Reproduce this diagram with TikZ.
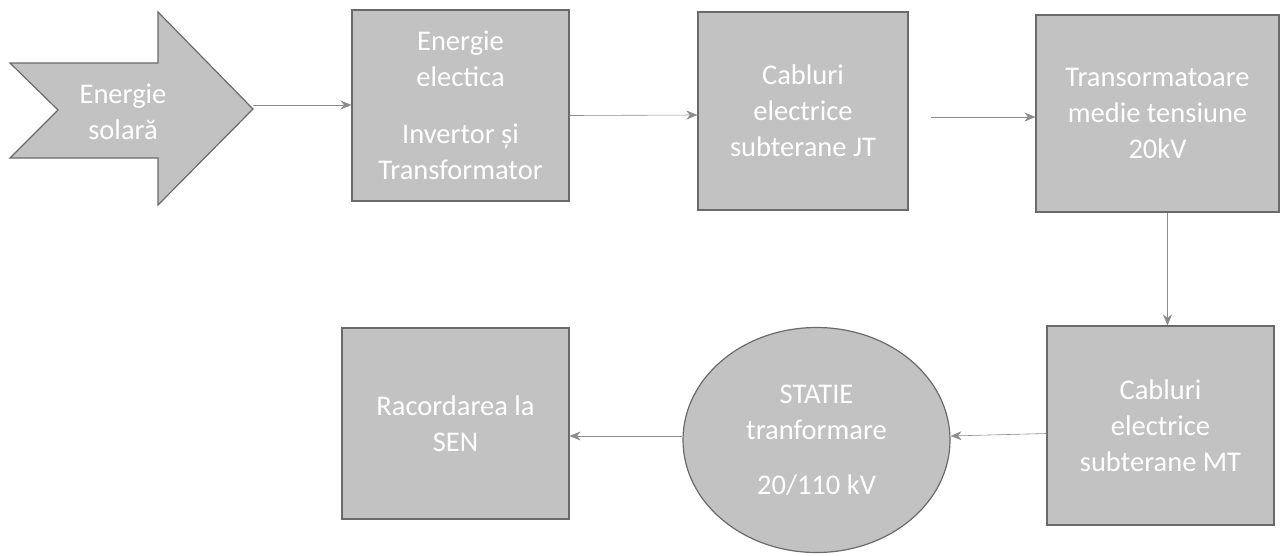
\documentclass[tikz,border=0pt]{standalone}
\usepackage{fontspec}
\setmainfont{Carlito}
\usetikzlibrary{calc, shapes.geometric, arrows.meta}

\definecolor{boxfill}{HTML}{C2C2C2}
\definecolor{boxline}{HTML}{6A6A6A}
\definecolor{linkgray}{HTML}{8C8C8C}

\tikzset{
	block/.style = {draw = boxline, fill = boxfill, line width = 1.2pt, inner sep = 0pt,
		align = center, text = white, font = \fontsize{28.5}{36}\selectfont},
	link/.style = {draw = linkgray, line width = 0.6pt, -{Stealth[length = 11pt, width = 9pt]}}
}

\begin{document}
\begin{tikzpicture}[x = 1pt, y = -1pt]
		%canvas
		\useasboundingbox (0,0) rectangle (1282,555);
		
		%solar arrow
		\draw [boxline, fill = boxfill, line width = 1.2pt] (10,63) -- (158,63) -- (158,12) -- (253,109) -- (158,205) -- (158,158) -- (10,158) -- (58,110) -- cycle;
		\node [block, draw = none, fill = none] (solar) at (123,112) {Energie\\solară};
		\coordinate (tip) at (253,105);
		
		%top row
		\node [block, minimum width = 217, minimum height = 191] (invertor) at (460.5,105.5) {Energie\\electica\\[21pt]Invertor și\\Transformator};
		\node [block, minimum width = 210, minimum height = 198] (cabluriJT) at (803,111) {Cabluri\\electrice\\subterane JT};
		\node [block, minimum width = 243, minimum height = 197] (trafo) at (1157.5,113.5) {Transormatoare\\medie tensiune\\20kV};
		
		%bottom row
		\node [block, minimum width = 227, minimum height = 199] (cabluriMT) at (1160.5,425.5) {Cabluri\\electrice\\subterane MT};
		\node [block, ellipse, minimum width = 267, minimum height = 225] (statie) at (816.5,440) {STATIE\\tranformare\\[19pt]20/110 kV};
		\node [block, minimum width = 227, minimum height = 191] (sen) at (455.5,423.5) {Racordarea la\\SEN};
		
		%flow
		\draw [link] (tip) -- (invertor.west |- tip);
		\draw [link] ($ (invertor.east) + (0,10) $) -- ($ (cabluriJT.west) + (0,4) $);
		\draw [link] ($ (cabluriJT.east) + (22,6) $) -- (trafo.west |- {$ (cabluriJT.east) + (22,6) $});
		\draw [link] ($ (trafo.south) + (10,0) $) -- ($ (cabluriMT.north) + (7,0) $);
		\draw [link] ($ (cabluriMT.west) + (0,8) $) -- ($ (statie.east) + (0,-4) $);
		\draw [link] ($ (statie.west) + (0,-4) $) -- (sen.east |- {$ (statie.west) + (0,-4) $});
	\end{tikzpicture}
\end{document}
